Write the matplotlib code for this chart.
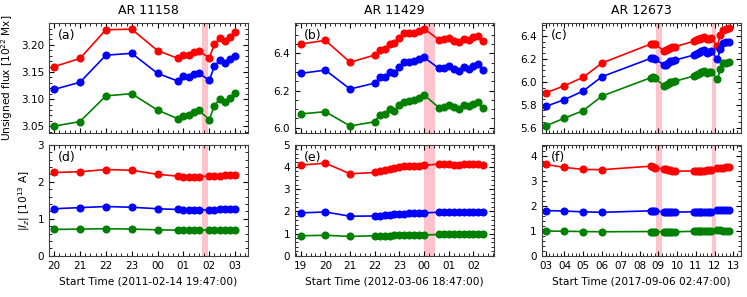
import matplotlib
matplotlib.use("Agg")
import matplotlib.pyplot as plt
from matplotlib.ticker import AutoMinorLocator
import numpy as np

# ---- AR 11158 (hours after 2011-02-14 20:00) ----
t_a = [0, 1, 2, 3, 4, 4.8, 5.0, 5.2, 5.4, 5.6, 6.0, 6.2, 6.4, 6.6, 6.8, 7.0]
flux_a_red = [3.160, 3.175, 3.228, 3.229, 3.1895, 3.175, 3.1815, 3.1815, 3.186, 3.189,
              3.176, 3.201, 3.212, 3.208, 3.2155, 3.2235]
flux_a_blue = [3.118, 3.131, 3.181, 3.1845, 3.1475, 3.133, 3.1425, 3.141, 3.1455, 3.148,
               3.1345, 3.161, 3.1716, 3.166, 3.1735, 3.180]
flux_a_green = [3.050, 3.0586, 3.106, 3.110, 3.0796, 3.0636, 3.068, 3.070, 3.0765, 3.079,
                3.0623, 3.088, 3.100, 3.095, 3.1025, 3.1105]
iz_a_red = [2.25, 2.27, 2.33, 2.31, 2.20, 2.15, 2.14, 2.13, 2.13, 2.13, 2.16, 2.16, 2.16, 2.17, 2.18, 2.18]
iz_a_blue = [1.27, 1.30, 1.33, 1.31, 1.27, 1.25, 1.24, 1.24, 1.24, 1.24, 1.24, 1.24, 1.25, 1.25, 1.26, 1.26]
iz_a_green = [0.71, 0.72, 0.73, 0.72, 0.70, 0.69, 0.69, 0.69, 0.69, 0.69, 0.70, 0.70, 0.70, 0.70, 0.70, 0.70]
shade_a = [(5.73, 5.96)]
ticks_a = [0, 1, 2, 3, 4, 5, 6, 7]
labels_a = ['20', '21', '22', '23', '00', '01', '02', '03']

# ---- AR 11429 (hours after 2012-03-06 19:00) ----
t_b = [0, 1, 2, 3.0, 3.2, 3.4, 3.6, 3.8, 4.0, 4.2, 4.4, 4.6, 4.8, 5.0,
       5.6, 5.8, 6.0, 6.2, 6.4, 6.6, 6.8, 7.0, 7.2, 7.4]
flux_b_red = [6.450, 6.470, 6.352, 6.391, 6.419, 6.425, 6.450, 6.454, 6.481, 6.507, 6.508, 6.510,
              6.520, 6.532, 6.473, 6.475, 6.481, 6.468, 6.459, 6.477, 6.473, 6.486, 6.495, 6.468]
flux_b_blue = [6.292, 6.310, 6.208, 6.240, 6.271, 6.274, 6.298, 6.296, 6.328, 6.352, 6.355, 6.359,
               6.368, 6.378, 6.319, 6.323, 6.330, 6.316, 6.306, 6.325, 6.317, 6.333, 6.341, 6.310]
flux_b_green = [6.074, 6.086, 6.009, 6.032, 6.068, 6.074, 6.099, 6.091, 6.122, 6.140, 6.144, 6.151,
                6.158, 6.176, 6.108, 6.110, 6.122, 6.113, 6.101, 6.122, 6.115, 6.129, 6.137, 6.104]
iz_b_red = [4.08, 4.17, 3.69, 3.75, 3.81, 3.84, 3.89, 3.93, 3.98, 4.02, 4.05, 4.05, 4.06, 4.07,
            4.13, 4.11, 4.11, 4.10, 4.10, 4.11, 4.11, 4.11, 4.13, 4.10]
iz_b_blue = [1.93, 1.97, 1.78, 1.79, 1.81, 1.83, 1.85, 1.87, 1.89, 1.90, 1.91, 1.92, 1.93, 1.93,
             1.96, 1.96, 1.96, 1.96, 1.96, 1.96, 1.96, 1.96, 1.96, 1.96]
iz_b_green = [0.90, 0.92, 0.87, 0.90, 0.90, 0.91, 0.91, 0.92, 0.92, 0.92, 0.93, 0.93, 0.93, 0.93,
              0.96, 0.96, 0.96, 0.96, 0.96, 0.96, 0.96, 0.96, 0.96, 0.96]
shade_b = [(5.01, 5.45)]
ticks_b = [0, 1, 2, 3, 4, 5, 6, 7]
labels_b = ['19', '20', '21', '22', '23', '00', '01', '02']

# ---- AR 12673 (day of 2017-09) ----
t_c = [3.0, 4.0, 5.0, 6.0, 8.6, 8.7, 8.8, 9.3, 9.4, 9.5, 9.6, 9.75, 9.9,
       10.9, 11.0, 11.1, 11.2, 11.3, 11.45, 11.6, 11.7, 11.8, 12.15, 12.3, 12.45, 12.6, 12.75]
flux_c_red = [5.903, 5.966, 6.040, 6.164, 6.330, 6.332, 6.328, 6.272, 6.275, 6.285, 6.298, 6.303, 6.307,
              6.354, 6.362, 6.372, 6.376, 6.385, 6.388, 6.372, 6.378, 6.384, 6.313, 6.409, 6.452, 6.462, 6.467]
flux_c_blue = [5.785, 5.845, 5.920, 6.045, 6.205, 6.207, 6.203, 6.147, 6.150, 6.160, 6.178, 6.184, 6.190,
               6.234, 6.243, 6.255, 6.258, 6.270, 6.275, 6.255, 6.262, 6.270, 6.197, 6.284, 6.336, 6.345, 6.350]
flux_c_green = [5.615, 5.683, 5.749, 5.876, 6.036, 6.038, 6.035, 5.966, 5.972, 5.980, 5.995, 6.000, 6.006,
                6.051, 6.060, 6.072, 6.076, 6.090, 6.093, 6.080, 6.084, 6.088, 6.022, 6.109, 6.161, 6.166, 6.170]
iz_c_red = [3.66, 3.54, 3.46, 3.45, 3.59, 3.56, 3.53, 3.48, 3.46, 3.44, 3.42, 3.41, 3.39,
            3.40, 3.40, 3.40, 3.41, 3.41, 3.41, 3.42, 3.42, 3.43, 3.53, 3.53, 3.53, 3.54, 3.55]
iz_c_blue = [1.81, 1.79, 1.76, 1.74, 1.80, 1.80, 1.79, 1.76, 1.76, 1.75, 1.75, 1.75, 1.75,
             1.76, 1.76, 1.76, 1.76, 1.76, 1.76, 1.76, 1.76, 1.76, 1.82, 1.82, 1.82, 1.82, 1.82]
iz_c_green = [0.99, 0.98, 0.97, 0.96, 0.97, 0.97, 0.97, 0.96, 0.96, 0.96, 0.96, 0.96, 0.96,
              0.98, 0.98, 0.98, 0.98, 0.98, 0.98, 0.98, 0.98, 0.98, 1.02, 1.02, 1.01, 1.01, 1.01]
shade_c = [(8.9, 9.17), (11.86, 12.06)]
ticks_c = list(range(3, 14))
labels_c = ['%02d' % d for d in ticks_c]

panels = [
    dict(title='AR 11158', t=t_a, flux=(flux_a_red, flux_a_blue, flux_a_green),
         iz=(iz_a_red, iz_a_blue, iz_a_green), shade=shade_a, ticks=ticks_a, labels=labels_a,
         xlim=(-0.2, 7.5), ylim_top=(3.038, 3.241), yt_top=[3.05, 3.10, 3.15, 3.20], fmt='%.2f',
         ylim_bot=(0, 3), yt_bot=[0, 1, 2, 3], xlabel='Start Time (2011-02-14 19:47:00)', tags=('(a)', '(d)')),
    dict(title='AR 11429', t=t_b, flux=(flux_b_red, flux_b_blue, flux_b_green),
         iz=(iz_b_red, iz_b_blue, iz_b_green), shade=shade_b, ticks=ticks_b, labels=labels_b,
         xlim=(-0.23, 7.83), ylim_top=(5.973, 6.565), yt_top=[6.0, 6.2, 6.4], fmt='%.1f',
         ylim_bot=(0, 5), yt_bot=[0, 1, 2, 3, 4, 5], xlabel='Start Time (2012-03-06 18:47:00)', tags=('(b)', '(e)')),
    dict(title='AR 12673', t=t_c, flux=(flux_c_red, flux_c_blue, flux_c_green),
         iz=(iz_c_red, iz_c_blue, iz_c_green), shade=shade_c, ticks=ticks_c, labels=labels_c,
         xlim=(2.79, 13.39), ylim_top=(5.556, 6.516), yt_top=[5.6, 5.8, 6.0, 6.2, 6.4], fmt='%.1f',
         ylim_bot=(0, 4.45), yt_bot=[0, 1, 2, 3, 4], xlabel='Start Time (2017-09-06 02:47:00)', tags=('(c)', '(f)')),
]

colors = ['red', 'blue', 'green']
fig = plt.figure(figsize=(7.47, 2.97), dpi=100)
lefts = [0.0656, 0.3949, 0.7252]
w = 0.2664

def style(ax):
    ax.tick_params(which='both', direction='in', top=True, right=True, labelsize=7.5)
    ax.tick_params(which='major', length=3.5)
    ax.tick_params(which='minor', length=2)
    ax.xaxis.set_minor_locator(AutoMinorLocator())
    ax.yaxis.set_minor_locator(AutoMinorLocator())
    for sp in ax.spines.values():
        sp.set_color('0.25')

for i, p in enumerate(panels):
    ax1 = fig.add_axes([lefts[i], 0.5532, w, 0.3704])
    ax2 = fig.add_axes([lefts[i], 0.139, w, 0.3737])
    for ax, series, ylim, yt, tag in [(ax1, p['flux'], p['ylim_top'], p['yt_top'], p['tags'][0]),
                                      (ax2, p['iz'], p['ylim_bot'], p['yt_bot'], p['tags'][1])]:
        for s0, s1 in p['shade']:
            ax.axvspan(s0, s1, color='pink', alpha=0.95, lw=0, zorder=0)
        for vals, c in zip(series, colors):
            ax.plot(p['t'], vals, '-o', color=c, lw=1.2, ms=4.8, zorder=2)
        ax.set_xlim(p['xlim'])
        ax.set_ylim(ylim)
        ax.set_yticks(yt)
        ax.set_xticks(p['ticks'])
        style(ax)
        ax.text(0.045, 0.94, tag, transform=ax.transAxes, va='top', ha='left', fontsize=9)
    ax1.set_xticklabels([])
    ax1.yaxis.set_major_formatter(matplotlib.ticker.FormatStrFormatter(p['fmt']))
    ax2.set_xticklabels(p['labels'])
    ax1.set_title(p['title'], fontsize=9)
    ax2.set_xlabel(p['xlabel'], fontsize=7.6)
    if i == 0:
        ax1.set_ylabel('Unsigned flux [$10^{22}$ Mx]', fontsize=7.6)
        ax2.set_ylabel('$|I_z|$ [$10^{13}$ A]', fontsize=7.6)

fig.savefig('out.png', dpi=100)
